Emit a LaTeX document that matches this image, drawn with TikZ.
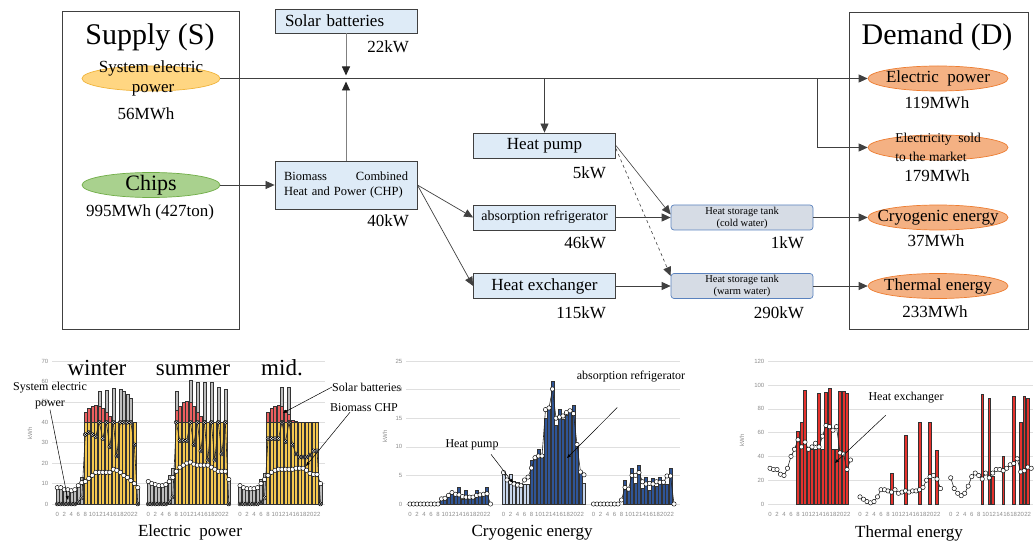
\documentclass[tikz,border=0pt]{standalone}
\usepackage{fontspec}
\setmainfont{Liberation Serif}
\setsansfont{Liberation Sans}
\usetikzlibrary{arrows.meta,positioning,shapes.geometric}

\newcommand{\fsz}[2]{\fontsize{#1}{#2}\selectfont}

\definecolor{panelcol}{RGB}{64,64,64}
\definecolor{boxfill}{RGB}{222,235,247}
\definecolor{tankfill}{RGB}{214,220,229}
\definecolor{tankline}{RGB}{90,130,190}
\definecolor{sysfill}{RGB}{255,214,130}
\definecolor{sysline}{RGB}{240,180,60}
\definecolor{chipfill}{RGB}{169,209,142}
\definecolor{chipline}{RGB}{112,173,71}
\definecolor{demfill}{RGB}{244,177,131}
\definecolor{demline}{RGB}{237,125,49}
\definecolor{gcol}{RGB}{190,190,190}
\definecolor{ycol}{RGB}{245,200,80}
\definecolor{rcol}{RGB}{235,95,95}
\definecolor{dblue}{RGB}{47,85,151}
\definecolor{lblue}{RGB}{200,214,235}
\definecolor{hred}{RGB}{230,50,45}

\tikzset{
  panel/.style={draw=panelcol, line width=0.8pt},
  unitbox/.style={draw=panelcol, fill=boxfill, line width=0.8pt, minimum width=142pt, minimum height=25pt, inner sep=0pt, font=\fsz{17}{19}},
  tankbox/.style={draw=tankline, fill=tankfill, rounded corners=3pt, line width=0.7pt, minimum width=142pt, minimum height=25pt, inner sep=0pt, align=center, font=\fsz{10.5}{12}},
  srcell/.style={ellipse, minimum width=138pt, minimum height=25pt, inner sep=0pt, line width=0.7pt},
  demell/.style={ellipse, draw=demline, fill=demfill, minimum width=140pt, minimum height=25pt, inner sep=0pt, line width=0.7pt},
  val/.style={font=\fsz{17}{19}, inner sep=0pt},
  flowline/.style={->, draw=black!75, line width=0.7pt},
  feedline/.style={-{Triangle[length=9pt,width=8pt,color=black!85]}, draw=black!50, line width=0.9pt},
  gridline/.style={draw=gray!25, line width=0.5pt},
  tick/.style={font=\sffamily\fsz{6}{7}, text=gray!90, inner sep=0.5pt},
  barbox/.style={draw=black!80, line width=0.35pt},
  dline/.style={draw=black!85, line width=0.6pt},
  mk/.style={draw=black, fill=white, line width=0.45pt},
  chartnote/.style={font=\fsz{12}{15}, inner sep=0pt},
  pointer/.style={-{Triangle[length=4pt,width=3pt]}, line width=0.5pt},
  chartcap/.style={font=\fsz{17}{19}, inner sep=0pt},
  season/.style={font=\fsz{23}{25}, inner sep=0pt, anchor=base}
}

% stacked hourly bars of the electric chart: base/red/top
\newcommand{\stackbars}[2]{%
  \foreach \vb/\vr/\vt [count=\hh from 0] in {#2} {
    \ifdim\vb pt>39pt \def\bc{ycol}\else\def\bc{gcol}\fi
    \draw[barbox, fill=\bc] ({#1+3.5*\hh-1.45},504) rectangle ({#1+3.5*\hh+1.45},{504-\vb*2.043});
    \ifdim\vr pt>\vb pt
      \draw[barbox, fill=rcol] ({#1+3.5*\hh-1.45},{504-\vb*2.043}) rectangle ({#1+3.5*\hh+1.45},{504-\vr*2.043});
    \fi
    \ifdim\vt pt>\vr pt
      \draw[barbox, fill=gcol] ({#1+3.5*\hh-1.45},{504-\vr*2.043}) rectangle ({#1+3.5*\hh+1.45},{504-\vt*2.043});
    \fi}}
% plain hourly bars: x0, scale, colour, values
\newcommand{\hbars}[4]{%
  \foreach \vv [count=\hh from 0] in {#4} {
    \ifdim\vv pt>0pt
      \draw[barbox, fill=#3] ({#1+3.5*\hh-1.45},504) rectangle ({#1+3.5*\hh+1.45},{504-\vv*#2});
    \fi}}
% line with markers: x0, scale, 0 circle / 1 cross, values
\newcommand{\dotline}[4]{%
  \foreach \vv [count=\hh from 0, remember=\vv as \pv (initially 0)] in {#4} {
    \ifnum\hh>0
      \draw[dline] ({#1+3.5*(\hh-1)},{504-\pv*#2}) -- ({#1+3.5*\hh},{504-\vv*#2});
    \fi}
  \foreach \vv [count=\hh from 0] in {#4} {
    \ifnum#3=1
      \draw[mk] ({#1+3.5*\hh},{504-\vv*#2}) circle (2pt) +(-1.3,-1.3) -- +(1.3,1.3) +(-1.3,1.3) -- +(1.3,-1.3);
    \else
      \draw[mk] ({#1+3.5*\hh},{504-\vv*#2}) circle (2.2pt);
    \fi}}

\begin{document}
\begin{tikzpicture}[x=1pt, y=-1pt, >={Triangle[length=9pt,width=8pt]}]
\useasboundingbox (0,0) rectangle (1035,545);

% supply and demand
\draw[panel] (62,11) rectangle (239,329);
\draw[panel] (849,12) rectangle (1028,329);
\node[font=\fsz{30}{32}] (suptitle) at (150,37) {Supply (S)};
\node[font=\fsz{30}{32}] (demtitle) at (937,37) {Demand (D)};

\node[srcell, draw=sysline, fill=sysfill, label={[font=\fsz{17}{20}, align=center]center:System electric\\\hspace*{4pt}power}] (sys) at (151,78.5) {};
\node[val] (sysval) at (146,114) {56MWh};
\node[srcell, draw=chipline, fill=chipfill, label={[font=\fsz{22}{24}]center:Chips}] (chips) at (151,185) {};
\node[val] (chipsval) at (150,212) {995MWh (427ton)};

\node[unitbox, text width=122pt, inner xsep=10pt, align=left, minimum height=24pt] (solar) at (346,21) {Solar batteries};
\node[val, anchor=east] (solarval) at (409,47) {22kW};
\node[unitbox, minimum height=48pt, text width=124pt, inner xsep=9pt, align=left, font=\fsz{12.5}{15}] (chp) at (346,185) {\hbox to 124pt{Biomass\hfill Combined}\\Heat and Power (CHP)};
\node[val, anchor=east] (chpval) at (409,221) {40kW};
\node[unitbox] (hp) at (544.5,145.5) {Heat pump};
\node[val, anchor=east] (hpval) at (606,173) {5kW};
\node[unitbox, font=\fsz{14}{16}] (absr) at (544.5,217.5) {absorption refrigerator};
\node[val, anchor=east] (absrval) at (606,243) {46kW};
\node[unitbox] (hex) at (544.5,286) {Heat exchanger};
\node[val, anchor=east] (hexval) at (606,313) {115kW};
\node[tankbox] (tankc) at (742,217.5) {Heat storage tank\\(cold water)};
\node[val, anchor=east] (tankcval) at (804,243) {1kW};
\node[tankbox] (tankw) at (742,286) {Heat storage tank\\(warm water)};
\node[val, anchor=east] (tankwval) at (804,313) {290kW};

\node[demell, label={[font=\fsz{17}{19}]center:Electric\ \ power}] (elec) at (938,78.5) {};
\node[val] (elecval) at (937,103) {119MWh};
\node[demell, label={[font=\fsz{13.5}{19}, align=left]center:Electricity\ \ sold\\to the market}] (sold) at (938,147.5) {};
\node[val] (soldval) at (937,176) {179MWh};
\node[demell, label={[font=\fsz{17}{19}]center:Cryogenic energy}] (cryo) at (938,217.5) {};
\node[val] (cryoval) at (936,241) {37MWh};
\node[demell, label={[font=\fsz{17}{19}]center:Thermal energy}] (therm) at (938,286) {};
\node[val] (thermval) at (935,312) {233MWh};

\coordinate (soljn) at (346,78.5);
\coordinate (hpjn) at (544.5,78.5);
\coordinate (soldjn) at (817,78.5);
\draw[flowline] (sys) -- (elec);
\draw[feedline] (solar) -- ([yshift=3pt]soljn);
\draw[feedline] (chp) -- ([yshift=-3pt]soljn);
\draw[flowline] (hpjn) -- (hp);
\draw[flowline] (soldjn) |- (sold);
\draw[flowline] (chips) -- (chp);
\draw[flowline] (chp.east) -- (absr.west);
\draw[flowline] (chp.east) -- (hex.west);
\draw[flowline] (absr) -- (tankc);
\draw[flowline] (hex) -- (tankw);
\draw[flowline, line width=0.6pt] (hp.east) -- ([yshift=3pt]tankc.west);
\draw[flowline, line width=0.6pt, dashed] ([yshift=-3pt]hp.east) -- ([yshift=10pt]tankw.west);
\draw[flowline] (tankc) -- (cryo);
\draw[flowline] (tankw) -- (therm);

% electric power chart
\foreach \v in {0,10,...,70} {
  \draw[gridline] (52,{504-\v*2.043}) -- (325,{504-\v*2.043});
  \node[tick, anchor=east] (ea\v) at (49,{504-\v*2.043}) {\v};
}
\node[tick, rotate=90] (eunit) at (30,433) {kWh};
\foreach \gx [count=\g] in {57.3,148.3,240}
  \foreach \hh in {0,2,...,22}
    \node[tick] (ex\g-\hh) at ({\gx+3.5*\hh},514) {\hh};
\stackbars{57.3}{8.5/8.5/8.5, 8.5/8.5/8.5, 7/7/7, 7/7/7, 7/7/7, 7/7/7, 8.5/8.5/8.5, 13/13/13, 40/45/45, 40/47/47, 40/48/48, 40/48.5/48.5, 40/48/55, 40/47/47, 40/45/55.5, 40/43/43, 40/40/56.5, 40/40/40, 40/40/56, 40/40/55, 40/40/54, 40/40/52, 40/40/40, 8/8/8}
\stackbars{148.3}{11/11/11, 10/10/10, 9.5/9.5/9.5, 9/9/9, 9/9/9, 10/10/10, 14/14/14, 17.5/17.5/17.5, 40/46/55, 40/48/48, 40/50/50, 40/50.5/50.5, 40/50/60.5, 40/48/48, 40/45/59.5, 40/43/43, 40/41/59.5, 40/40/40, 40/40/59.5, 40/40/40, 40/40/57, 40/40/40, 40/40/56, 12/12/12}
\stackbars{240}{9/9/9, 8/8/8, 7.5/7.5/7.5, 7.5/7.5/7.5, 8/8/8, 8.5/8.5/8.5, 12/12/12, 15/15/15, 40/45/45, 40/47/47, 40/48/48, 40/48.5/48.5, 40/48/57, 40/46/46, 40/44/57, 40/41/41, 40/40.5/40.5, 40/40/40, 40/40/40, 40/40/40, 40/40/40, 40/40/40, 40/40/40, 10/10/10}
\dotline{57.3}{2.043}{1}{0,0,0,0,0,0,1,3,34,35,34,33,40,32,40,28,40,23.5,40,40,40,40,29,0}
\dotline{148.3}{2.043}{1}{0,0,0,0,0,0,1,3.5,40,31,31,31,40,29,40,26,40,21.5,40,21.5,40,24.5,40,0}
\dotline{240}{2.043}{1}{0,0,0,0,0,0,1,3,32,32,32,32,40,30.5,40,29,24.5,23,23,23,24,26,26,0}
\dotline{57.3}{2.043}{0}{8,8,7,7,6.5,7,9,10.5,11,12.5,14,15.5,15.5,15.5,15.5,15.5,17,16.5,15.5,14,13,11.5,10,8}
\dotline{148.3}{2.043}{0}{11,10,9.5,9,9,9.5,11,13,16,18,19,20,20.5,19.5,19,19,19,19,18,17,16,16,16,12}
\dotline{240}{2.043}{0}{9,8,7.5,7.5,7.5,8,10,12,14,15.5,16.5,17,17,17,17,17,17.5,17.5,17.5,16.5,15,14.5,14.5,10}
\node[season] (swin) at (97,375) {winter};
\node[season] (ssum) at (193,375) {summer};
\node[season] (smid) at (282,375) {mid.};
\node[chartnote, align=center, font=\fsz{12}{16}] (lbsys) at (50,396) {System electric\\power};
\coordinate (ptsys) at (68,500);
\draw[pointer] (lbsys.south) -- (ptsys);
\node[chartnote, anchor=west] (lbsol) at (332,387) {Solar batteries};
\coordinate (ptsol) at (283,413);
\draw[pointer] (lbsol.west) -- (ptsol);
\node[chartnote, anchor=west] (lbbio) at (330,408) {Biomass CHP};
\coordinate (ptbio) at (306,466);
\draw[pointer] ([xshift=20pt]lbbio.south west) -- (ptbio);
\node[chartcap] (capel) at (190,532) {Electric\ \ power};

% cryogenic energy chart
\foreach \v in {0,5,...,25} {
  \draw[gridline] (406,{504-\v*5.72}) -- (680,{504-\v*5.72});
  \node[tick, anchor=east] (ca\v) at (403,{504-\v*5.72}) {\v};
}
\node[tick, rotate=90] (cunit) at (385,436) {kWh};
\foreach \gx [count=\g] in {410,503.5,593.5}
  \foreach \hh in {0,2,...,22}
    \node[tick] (cx\g-\hh) at ({\gx+3.5*\hh},514) {\hh};
\hbars{410}{5.72}{dblue}{0,0,0,0,0,0,0,0,0,1,1,1.5,2,1.5,3,0.8,2.5,1,1,2.5,1.5,1.5,3,0}
\hbars{503.5}{5.72}{lblue}{5.4,4.5,5.3,4,3.8,3.5,3.5,3.5,0,0,0,0,0,0,0,0,0,0,0,0,0,0,0,3.7}
\hbars{503.5}{5.72}{dblue}{0,0,0,0,0,0,0,0,7.7,8.3,9.6,8.4,15,16.6,21.5,13.8,16.5,14.8,15.5,16.2,17.2,10.5,5.4,0}
\hbars{593.5}{5.72}{dblue}{0,0,0,0,0,0,0,0,0,4.2,2.8,6.3,3.7,6.8,2.7,4.7,2.4,4.6,3.1,4.7,3.4,3.5,6.3,0}
\dotline{410}{5.72}{0}{0,0,0,0,0,0,0,0,0,0.9,1,1.5,2,1.7,1.6,1.3,1.2,1.2,1.2,1.5,1.6,1.7,1.8,0}
\dotline{503.5}{5.72}{0}{5.5,4.2,3.8,3.5,3.3,3.2,4.2,4.7,6.3,8.1,8.4,8.4,16.5,16.8,20.1,15,15.2,15.4,16,16.3,15.8,10.4,5.6,5.1}
\dotline{593.5}{5.72}{0}{0,0,0,0,0,0,0,0,0.7,2.9,2.6,5,5,5.5,3.9,3.5,3.6,3.5,3.9,3.8,3.8,4.9,4.9,0}
\node[chartnote] (lbabs) at (631,377) {absorption refrigerator};
\coordinate (ptabs) at (567,458);
\draw[pointer, shorten <=35pt] ([xshift=11pt]lbabs.south) -- (ptabs);
\node[chartnote] (lbhpc) at (472,445) {Heat pump};
\coordinate (pthpc) at (513,483);
\draw[pointer, shorten <=5pt] ([xshift=16pt]lbhpc.south) -- (pthpc);
\node[chartcap] (capcr) at (532,533) {Cryogenic energy};

% thermal energy chart
\foreach \v in {0,20,...,120} {
  \draw[gridline] (768,{504-\v*1.19}) -- (1033,{504-\v*1.19});
  \node[tick, anchor=east] (ta\v) at (765,{504-\v*1.19}) {\v};
}
\node[tick, rotate=90] (tunit) at (742,440) {kWh};
\foreach \gx [count=\g] in {770,860,950.7}
  \foreach \hh in {0,2,...,22}
    \node[tick] (tx\g-\hh) at ({\gx+3.5*\hh},514) {\hh};
\hbars{770}{1.19}{hred}{0,0,0,0,0,0,0,0,61,69,96,46,46,46,93,46,94,97,46,46,95,95,93,0}
\hbars{860}{1.19}{hred}{0,0,0,0,0,0,0,0,0,26,0,0,0,58,0,0,0,69,0,0,69,0,45,0}
\hbars{950.7}{1.19}{hred}{0,0,0,0,0,0,0,0,0,92,0,89,23,0,0,40,0,0,91,0,69,91,89,0}
\dotline{770}{1.19}{0}{30,29,29,25,24,30,40,46,54,48,52,46,48,51,48,57,66,65,62,65,43,42,29,37}
\dotline{860}{1.19}{0}{6,4,2,1,2,6,12,12,11,10,12,9,10,11,10,11,11,12,14,20,23,24,21,13}
\dotline{950.7}{1.19}{0}{22,13,9,7,9,15,23,26,24,21,26,22,26,29,29,28,30,33,34,38,27,28,31,30}
\node[chartnote] (lbhex) at (906,398) {Heat exchanger};
\coordinate (pthex) at (835,463);
\draw[pointer, shorten <=17pt] ([xshift=-8pt]lbhex.south) -- (pthex);
\node[chartcap] (capth) at (909,533) {Thermal energy};
\end{tikzpicture}
\end{document}
